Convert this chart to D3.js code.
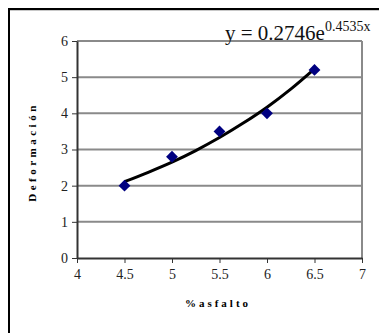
<!doctype html>
<html lang="en">
<head>
    <script src="https://d3js.org/d3.v7.min.js"></script>
    <style type="text/css">
        html, body {
            margin: 0;
            padding: 0;
            background: #fff;
        }
        svg text {
            font-family: "Liberation Serif", "Times New Roman", serif;
        }
    </style>
</head>
<body>
<svg id="svg" width="379" height="333"></svg>
<script>
    // measured points (% asfalto vs deformacion)
    var asfalto = [4.5, 5, 5.5, 6, 6.5];
    var deformacion = [2.0, 2.8, 3.5, 4.0, 5.2];

    // trendline
    var trendX = [4.5, 4.75, 5, 5.25, 5.5, 5.75, 6, 6.25, 6.5];
    var trendY = [2.11, 2.37, 2.65, 2.97, 3.33, 3.73, 4.17, 4.67, 5.23];

    var xTicks = [4, 4.5, 5, 5.5, 6, 6.5, 7];
    var yTicks = [0, 1, 2, 3, 4, 5, 6];

    var serif = '"Liberation Serif", "Times New Roman", serif';
    var svg = d3.select("#svg");

    // outer frame (left + top only visible)
    svg.append("line").attr("x1", 8).attr("y1", 9).attr("x2", 379).attr("y2", 9)
        .attr("stroke", "#000").attr("stroke-width", 2);
    svg.append("line").attr("x1", 9).attr("y1", 8).attr("x2", 9).attr("y2", 333)
        .attr("stroke", "#000").attr("stroke-width", 2);
    svg.append("line").attr("x1", 10).attr("y1", 10.5).attr("x2", 379).attr("y2", 10.5)
        .attr("stroke", "#c8c8c8").attr("stroke-width", 1);

    var plotL = 77, plotR = 362, plotT = 41, plotB = 258;

    var x = d3.scaleLinear().domain([4, 7]).range([plotL, plotR]);
    var y = d3.scaleLinear().domain([0, 6]).range([plotB, plotT]);

    // gridlines
    svg.append("g").selectAll("line")
        .data(yTicks.filter(function (d) { return d > 0; }))
        .enter().append("line")
        .attr("x1", plotL).attr("x2", plotR)
        .attr("y1", function (d) { return y(d); })
        .attr("y2", function (d) { return y(d); })
        .attr("stroke", "#8a8a8a").attr("stroke-width", 2);

    // right border of plot area
    svg.append("line").attr("x1", plotR).attr("x2", plotR).attr("y1", plotT).attr("y2", plotB)
        .attr("stroke", "#8a8a8a").attr("stroke-width", 2);

    // axes
    var xAxis = d3.axisBottom(x).tickValues(xTicks).tickSize(5).tickSizeOuter(0)
        .tickFormat(d3.format("~g"));
    var yAxis = d3.axisLeft(y).tickValues(yTicks).tickSize(5).tickSizeOuter(0)
        .tickFormat(d3.format("~g"));

    var gx = svg.append("g").attr("transform", "translate(0," + plotB + ")").call(xAxis);
    gx.select(".domain").attr("stroke", "#333").attr("stroke-width", 2);
    gx.selectAll(".tick line").attr("stroke", "#333");
    gx.selectAll(".tick text").style("font-family", serif)
        .style("font-size", "14px").attr("fill", "#222").attr("y", 11);

    var gy = svg.append("g").attr("transform", "translate(" + plotL + ",0)").call(yAxis);
    gy.select(".domain").attr("stroke", "#333").attr("stroke-width", 2);
    gy.selectAll(".tick line").attr("stroke", "#333");
    gy.selectAll(".tick text").style("font-family", serif)
        .style("font-size", "14px").attr("fill", "#222").attr("x", -9);

    // trendline
    var line = d3.line()
        .x(function (d) { return x(d[0]); })
        .y(function (d) { return y(d[1]); })
        .curve(d3.curveCatmullRom);
    svg.append("path")
        .datum(trendX.map(function (d, i) { return [d, trendY[i]]; }))
        .attr("d", line)
        .attr("fill", "none")
        .attr("stroke", "#000")
        .attr("stroke-width", 3);

    // markers
    svg.append("g").selectAll("path")
        .data(asfalto)
        .enter().append("path")
        .attr("d", d3.symbol().type(d3.symbolSquare).size(70))
        .attr("transform", function (d, i) {
            return "translate(" + x(d) + "," + y(deformacion[i]) + ") rotate(45)";
        })
        .attr("fill", "#000080");

    // axis titles
    svg.append("text")
        .attr("x", 218).attr("y", 307)
        .attr("text-anchor", "middle")
        .style("font-size", "11px").attr("font-weight", "bold")
        .attr("letter-spacing", 3)
        .text("%asfalto");

    svg.append("text")
        .attr("transform", "translate(36,152) rotate(-90)")
        .attr("text-anchor", "middle")
        .style("font-size", "11px").attr("font-weight", "bold")
        .attr("letter-spacing", 3.5)
        .text("Deformación");

    // equation
    var eq = svg.append("text")
        .attr("x", 225).attr("y", 40)
        .style("font-size", "21px")
        .attr("fill", "#111");
    eq.append("tspan").text("y = 0.2746e");
    eq.append("tspan").style("font-size", "14px").attr("dy", -9).text("0.4535x");
</script>
</body>
</html>
